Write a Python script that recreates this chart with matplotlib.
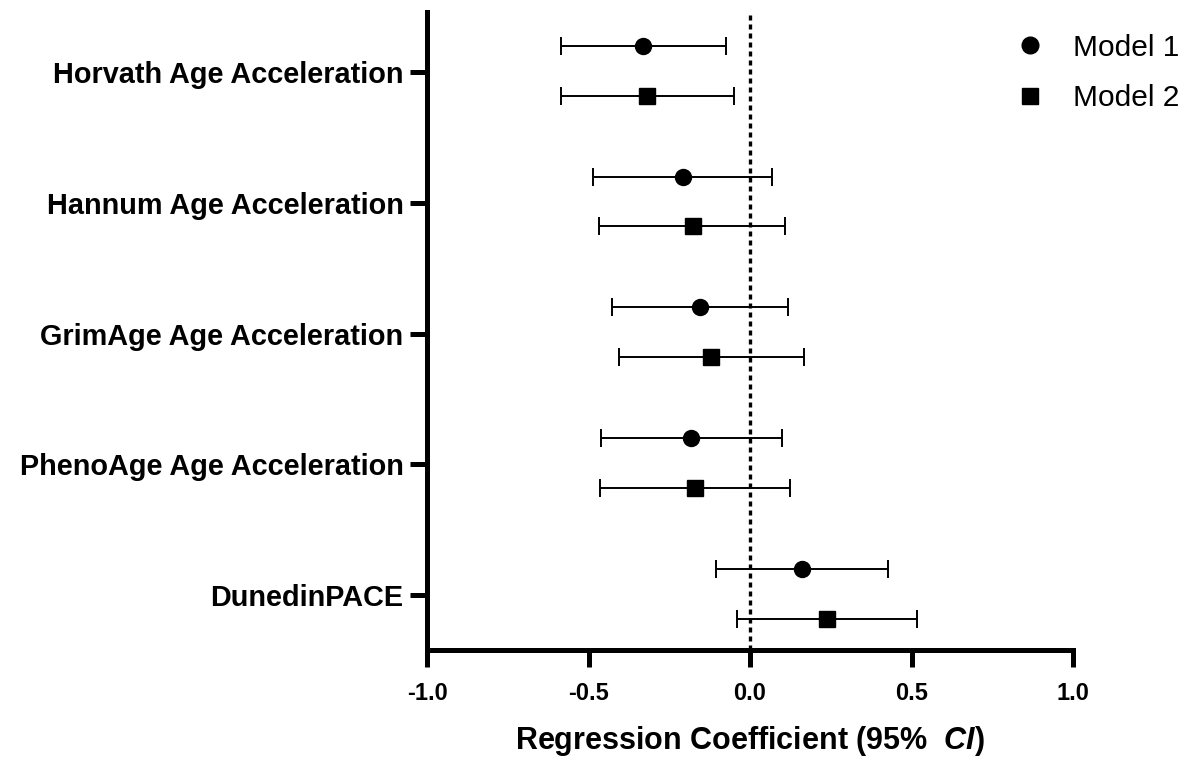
import matplotlib
matplotlib.use("Agg")
import matplotlib.pyplot as plt
from matplotlib.lines import Line2D
import numpy as np

plt.rcParams['font.family'] = ['Liberation Sans', 'DejaVu Sans']
plt.rcParams['mathtext.fontset'] = 'custom'
plt.rcParams['mathtext.rm'] = 'Liberation Sans'
plt.rcParams['mathtext.bf'] = 'Liberation Sans:bold'
plt.rcParams['mathtext.it'] = 'Liberation Sans:italic'
plt.rcParams['mathtext.bfit'] = 'Liberation Sans:bold:italic'

categories = ["Horvath Age Acceleration", "Hannum Age Acceleration",
              "GrimAge Age Acceleration", "PhenoAge Age Acceleration",
              "DunedinPACE"]
m1_est = [-0.331, -0.208, -0.155, -0.182, 0.161]
m1_low = [-0.586, -0.487, -0.426, -0.461, -0.105]
m1_high = [-0.075, 0.069, 0.119, 0.098, 0.426]
m2_est = [-0.318, -0.178, -0.121, -0.170, 0.237]
m2_low = [-0.586, -0.467, -0.406, -0.464, -0.039]
m2_high = [-0.049, 0.108, 0.167, 0.124, 0.516]
xticks = [-1.0, -0.5, 0.0, 0.5, 1.0]
xticklabels = ["-1.0", "-0.5", "0.0", "0.5", "1.0"]

fig = plt.figure(figsize=(11.98, 7.6), dpi=100)
ax = fig.add_axes([427/1198, 1-650/760, (1073-427)/1198, (650-12)/760])

pos = np.arange(len(categories))
y1 = pos - 0.2
y2 = pos + 0.18

def draw(est, low, high, y, marker, ms):
    est = np.array(est); low = np.array(low); high = np.array(high)
    ax.errorbar(est, y, xerr=[est - low, high - est], fmt=marker, color='black',
                ms=ms, ecolor='black', elinewidth=1.4, capsize=6.5, capthick=1.4,
                zorder=3)

ax.axvline(0, color='black', lw=2.4, linestyle=(0, (1.5, 1.2)), zorder=2)
draw(m1_est, m1_low, m1_high, y1, 'o', 11.5)
draw(m2_est, m2_low, m2_high, y2, 's', 11)

ax.set_xlim(-1.0, 1.0)
ax.set_ylim(4.42, -0.46)
ax.set_xticks(xticks)
ax.set_xticklabels(xticklabels, fontsize=17, fontweight='bold')
ax.set_yticks(pos)
ax.set_yticklabels(categories, fontsize=20.8, fontweight='bold')
ax.tick_params(axis='both', width=3.6, length=12, color='black')
ax.tick_params(axis='x', pad=11)
ax.tick_params(axis='y', pad=5)
for s in ['top', 'right']:
    ax.spines[s].set_visible(False)
for s in ['left', 'bottom']:
    ax.spines[s].set_linewidth(3.6)

ax.set_xlabel(r"Regression Coefficient (95%  $\mathbfit{CI}$)", fontsize=22,
              fontweight='bold', labelpad=14)

handles = [Line2D([], [], marker='o', color='black', linestyle='none', ms=12),
           Line2D([], [], marker='s', color='black', linestyle='none', ms=11)]
fig.legend(handles, ["Model 1", "Model 2"], loc='upper left',
           bbox_to_anchor=(994/1198, 1-13/760), frameon=False, fontsize=21.5,
           labelspacing=0.75, handletextpad=0.93, handlelength=1.0,
           borderpad=0.2)

fig.savefig("out.png", dpi=100)
